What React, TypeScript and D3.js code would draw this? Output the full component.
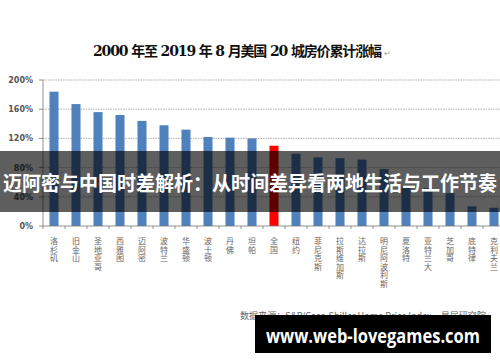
import React from "react";
import * as d3 from "d3";

const cities = [
  "洛杉矶", "旧金山", "圣地亚哥", "西雅图", "迈阿密", "波特兰", "华盛顿",
  "波士顿", "丹佛", "坦帕", "全国", "纽约", "菲尼克斯", "拉斯维加斯",
  "达拉斯", "明尼阿波利斯", "夏洛特", "亚特兰大", "芝加哥", "底特律", "克利夫兰",
];
const growth = [
  184, 167, 156, 152, 144, 138, 132, 122, 121, 120, 110, 99, 94, 93, 91, 78,
  55, 52, 45, 27, 25,
];
const yTicks = [0, 40, 80, 120, 160, 200];
const highlight = "全国";

const title = "2000 年至 2019 年 8 月美国 20 城房价累计涨幅";
const banner = "迈阿密与中国时差解析：从时间差异看两地生活与工作节奏";
const source = "数据来源：S&P/Case-Shiller Home Price Index、易居研究院";
const watermark = "www.web-lovegames.com";

const W = 500;
const H = 362;
const left = 43;
const right = 505;
const top = 80;
const bottom = 226;

const App = () => {
  const x = d3.scaleBand<string>().domain(cities).range([left, right]).padding(0);
  const y = d3.scaleLinear().domain([0, 200]).range([bottom, top]);
  const bw = x.bandwidth() * 0.41;
  const cjk = "'Noto Sans CJK SC', 'Noto Sans', sans-serif";

  return (
    <svg
      width={W}
      height={H}
      style={{ position: "fixed", left: 0, top: 0, background: "#fff" }}
    >
      <rect x={0} y={0} width={W} height={H} fill="#fff" />
      {/* title */}
      <text
        x={93}
        y={56}
        fontFamily="'DejaVu Serif', 'Noto Sans CJK SC', serif"
        fontWeight="bold"
        fontSize={14}
        fill="#111"
        textLength={289}
        lengthAdjust="spacing"
      >
        {title}
      </text>
      <text x={384} y={56} fontSize={8} fill="#999" fontFamily={cjk}>↵</text>

      {/* grid + y axis */}
      {yTicks.map((t) => (
        <g key={t}>
          {t > 0 && (
            <line
              x1={left}
              x2={W}
              y1={y(t)}
              y2={y(t)}
              stroke="#9a9a9a"
              strokeWidth={0.8}
              strokeDasharray="1.5,1"
            />
          )}
          <line x1={left - 4} x2={left} y1={y(t)} y2={y(t)} stroke="#777" strokeWidth={0.8} />
          <text
            x={33}
            y={y(t) + 3}
            textAnchor="end"
            fontSize={8}
            fontWeight="bold"
            fill="#555"
            fontFamily="'DejaVu Sans', sans-serif"
          >
            {t}%
          </text>
        </g>
      ))}
      <line x1={left} x2={left} y1={top} y2={bottom} stroke="#777" strokeWidth={0.8} />

      {/* bars */}
      {cities.map((c, i) => (
        <rect
          key={c}
          x={(x(c) as number) + (x.bandwidth() - bw) / 2}
          y={y(growth[i])}
          width={bw}
          height={bottom - y(growth[i])}
          fill={c === highlight ? "#ff0000" : "#4f81bd"}
        />
      ))}

      {/* x axis */}
      <line x1={left} x2={W} y1={bottom} y2={bottom} stroke="#777" strokeWidth={0.8} />
      {cities.map((c) => (
        <line
          key={"t" + c}
          x1={x(c) as number}
          x2={x(c) as number}
          y1={bottom}
          y2={bottom + 3}
          stroke="#777"
          strokeWidth={0.8}
        />
      ))}
      {cities.map((c) => (
        <text
          key={"l" + c}
          fontSize={8}
          fill="#666"
          fontFamily={cjk}
          textAnchor="middle"
        >
          {Array.from(c).map((ch, j) => (
            <tspan key={j} x={(x(c) as number) + x.bandwidth() / 2} y={244 + j * 8.5}>
              {ch}
            </tspan>
          ))}
        </text>
      ))}

      {/* source */}
      <text
        x={240}
        y={319}
        fontSize={9}
        fill="#666"
        fontFamily={cjk}
        textLength={246}
        lengthAdjust="spacingAndGlyphs"
      >
        {source}
      </text>

      {/* banner overlay */}
      <rect x={0} y={151} width={W} height={61} fill="rgba(0,0,0,0.63)" />
      <text
        x={W / 2}
        y={191}
        textAnchor="middle"
        fontSize={20}
        fontWeight="bold"
        fill="#fff"
        fontFamily={cjk}
        textLength={494}
        lengthAdjust="spacingAndGlyphs"
      >
        {banner}
      </text>

      {/* watermark box */}
      <rect x={255} y={315} width={236} height={38} fill="#000" />
      <text
        x={373}
        y={343}
        textAnchor="middle"
        fontSize={20}
        fontWeight="bold"
        fill="#fff"
        fontFamily="'Open Sans', 'DejaVu Sans', sans-serif"
        textLength={214}
        lengthAdjust="spacingAndGlyphs"
      >
        {watermark}
      </text>
    </svg>
  );
};

export default App;
